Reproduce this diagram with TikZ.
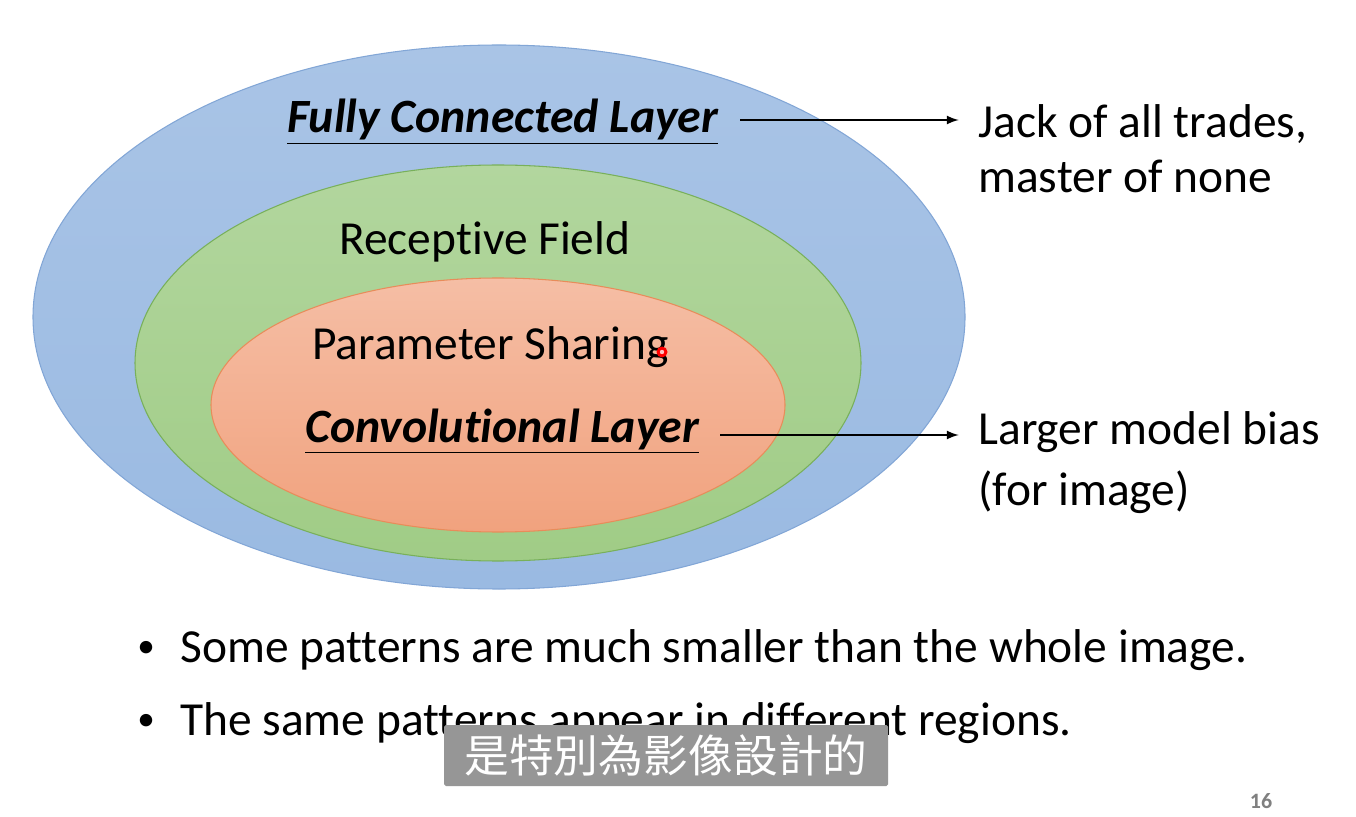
\documentclass[tikz,border=0pt]{standalone}
\usepackage{fontspec}
\setmainfont{Carlito}[Ligatures=NoCommon]
\newfontfamily\cjk{Noto Sans CJK TC}
\usetikzlibrary{arrows}

\definecolor{fcblue}{RGB}{169,196,230}
\definecolor{fcblueb}{RGB}{154,186,226}
\definecolor{fcline}{RGB}{130,166,214}
\definecolor{rfgreen}{RGB}{178,214,158}
\definecolor{rfgreenb}{RGB}{160,204,134}
\definecolor{rfline}{RGB}{120,176,90}
\definecolor{psorange}{RGB}{245,190,165}
\definecolor{psorangeb}{RGB}{241,162,126}
\definecolor{psline}{RGB}{232,140,90}
\definecolor{subgray}{RGB}{150,150,150}

\tikzset{
  txt/.style={anchor=base west, inner sep=0pt, font=\fontsize{27}{32}\selectfont},
  layer/.style={anchor=base west, inner sep=0pt, font=\fontsize{27.2}{33}\selectfont\bfseries\itshape},
  dot/.style={anchor=base west, inner sep=0pt, font=\fontsize{20}{24}\selectfont},
  pointer/.style={-latex, line width=1.3pt, shorten >=11pt},
}

\begin{document}
\begin{tikzpicture}[x=0.02cm, y=-0.02cm]
\useasboundingbox[fill=white] (0,0) rectangle (1356,817);

% the three nested sets
\shade[top color=fcblue, bottom color=fcblueb, draw=fcline, line width=0.6pt]
  (499,317) ellipse [x radius=466, y radius=272];
\shade[top color=rfgreen, bottom color=rfgreenb, draw=rfline, line width=0.6pt]
  (498,363) ellipse [x radius=363, y radius=198];
\shade[top color=psorange, bottom color=psorangeb, draw=psline, line width=0.6pt]
  (498,405) ellipse [x radius=287, y radius=127];

\node[layer] (fc) at (287,133) {\underline{Fully Connected Layer}};
\node[txt] (rf) at (339,255) {Receptive Field};
\node[txt] (ps) at (312,360) {Parameter Sharing};
\node[layer] (cnn) at (305,442) {\underline{Convolutional Layer}};
\fill[red] (662,352) circle (5.5);
\fill[red!25!white] (662,352) circle (2.2);

\node[txt] (jack) at (978,138) {Jack of all trades,};
\node[txt] (none) at (978,193) {master of none};
\node[txt] (bias) at (978,445) {Larger model bias};
\node[txt] (img) at (978,505) {(for image)};

\draw[pointer] (740,120) coordinate (fcend) -- (fcend -| jack.west);
\draw[pointer] (720,435) coordinate (cnnend) -- (cnnend -| bias.west);

% bullets
\node[dot] (b1) at (137,657) {•};
\node[txt] (t1) at (180,662) {Some patterns are much smaller than the whole image.};
\node[dot] (b2) at (137,730) {•};
\node[txt] (t2) at (180,735) {The same patterns appear in different regions.};

% subtitle
\node[fill=subgray, text=white, inner sep=0pt, minimum width=444*0.02cm,
  minimum height=61*0.02cm, rounded corners=1pt, font=\cjk\fontsize{25.5}{30}\selectfont]
  (sub) at (666,755.5) {是特別為影像設計的};

\node[anchor=base, inner sep=0pt, text=gray, font=\fontsize{12.5}{15}\selectfont\bfseries]
  (page) at (1261,808) {16};
\end{tikzpicture}
\end{document}
